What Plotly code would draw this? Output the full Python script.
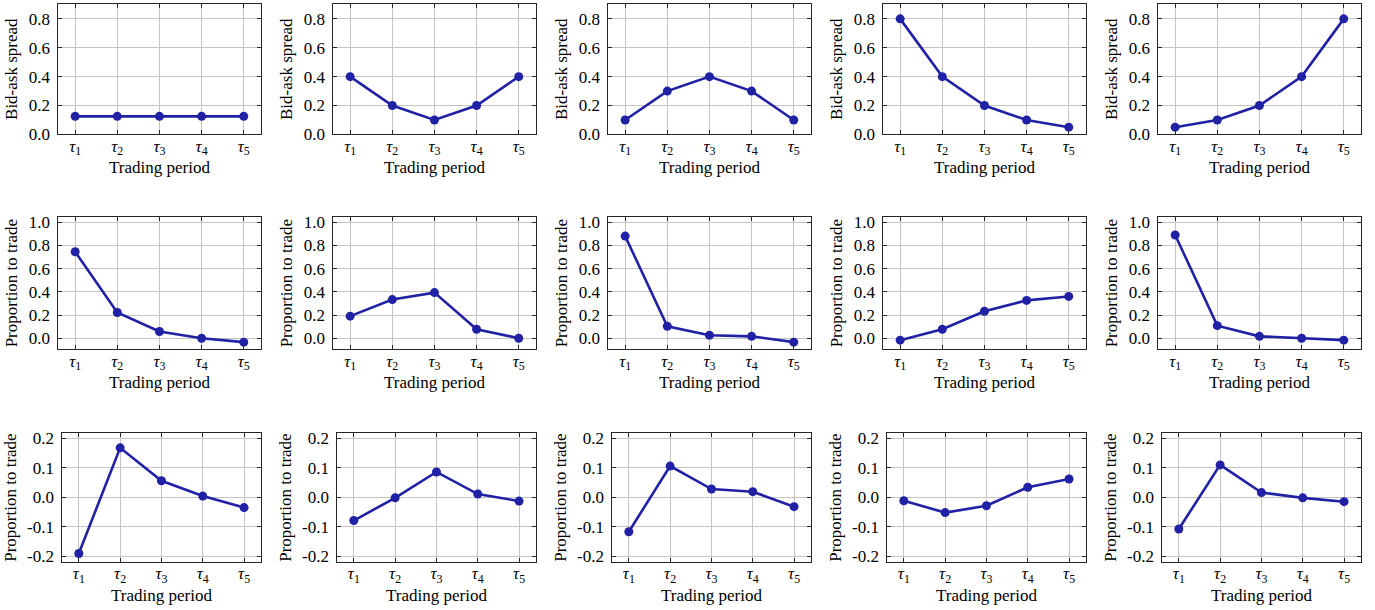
import plotly.graph_objects as go

periods = [1, 2, 3, 4, 5]
period_labels = ["<i>τ</i><sub>1</sub>", "<i>τ</i><sub>2</sub>", "<i>τ</i><sub>3</sub>",
                 "<i>τ</i><sub>4</sub>", "<i>τ</i><sub>5</sub>"]

spread_1 = [0.125, 0.125, 0.125, 0.125, 0.125]
spread_2 = [0.4, 0.2, 0.1, 0.2, 0.4]
spread_3 = [0.1, 0.3, 0.4, 0.3, 0.1]
spread_4 = [0.8, 0.4, 0.2, 0.1, 0.05]
spread_5 = [0.05, 0.1, 0.2, 0.4, 0.8]

prop_1 = [0.745, 0.222, 0.058, 0.0, -0.034]
prop_2 = [0.19, 0.333, 0.393, 0.077, 0.0]
prop_3 = [0.88, 0.103, 0.025, 0.016, -0.034]
prop_4 = [-0.017, 0.077, 0.232, 0.326, 0.36]
prop_5 = [0.89, 0.108, 0.016, 0.0, -0.017]

diff_1 = [-0.191, 0.168, 0.056, 0.004, -0.035]
diff_2 = [-0.079, -0.002, 0.086, 0.011, -0.013]
diff_3 = [-0.117, 0.106, 0.028, 0.019, -0.032]
diff_4 = [-0.012, -0.052, -0.029, 0.034, 0.062]
diff_5 = [-0.108, 0.11, 0.016, -0.002, -0.015]

row1_ticks = [0.0, 0.2, 0.4, 0.6, 0.8]
row1_text = ["0.0", "0.2", "0.4", "0.6", "0.8"]
row2_ticks = [0.0, 0.2, 0.4, 0.6, 0.8, 1.0]
row2_text = ["0.0", "0.2", "0.4", "0.6", "0.8", "1.0"]
row3_ticks = [-0.2, -0.1, 0.0, 0.1, 0.2]
row3_text = ["-0.2", "-0.1", "0.0", "0.1", "0.2"]

rows = [
    dict(data=[spread_1, spread_2, spread_3, spread_4, spread_5], title="Bid-ask spread",
         ticks=row1_ticks, text=row1_text, yrange=[0.0, 0.903], top=0.0, bottom=131.5, left=58.3),
    dict(data=[prop_1, prop_2, prop_3, prop_4, prop_5], title="Proportion to trade",
         ticks=row2_ticks, text=row2_text, yrange=[-0.094, 1.043], top=215.0, bottom=348.0, left=58.3),
    dict(data=[diff_1, diff_2, diff_3, diff_4, diff_5], title="Proportion to trade",
         ticks=row3_ticks, text=row3_text, yrange=[-0.22, 0.218], top=432.7, bottom=562.7, left=62.3),
]

W, H = 1375, 610
HY = 601.0  # vertical reference span used to place the panel rows
LINE = "#2121a6"
GRID = "#c4c4c4"
FRAME = "#262626"
FONT = "'Liberation Serif', 'DejaVu Serif', serif"

fig = go.Figure()
layout = dict(width=W, height=H, margin=dict(l=0, r=0, t=0, b=0),
              paper_bgcolor="white", plot_bgcolor="white", showlegend=False,
              font=dict(family=FONT, size=17, color="black"))

idx = 0
for r, row in enumerate(rows):
    for c in range(5):
        idx += 1
        xa = "xaxis" if idx == 1 else f"xaxis{idx}"
        ya = "yaxis" if idx == 1 else f"yaxis{idx}"
        xref = "x" if idx == 1 else f"x{idx}"
        yref = "y" if idx == 1 else f"y{idx}"
        x0 = row["left"] + 275 * c
        x1 = 260.6 + 275 * c
        fig.add_trace(go.Scatter(
            x=periods, y=row["data"][c], mode="lines+markers",
            line=dict(color=LINE, width=2.6),
            marker=dict(color=LINE, size=9),
            xaxis=xref, yaxis=yref, cliponaxis=False))
        layout[xa] = dict(
            domain=[x0 / W, x1 / W], anchor=yref, range=[0.6, 5.4],
            tickvals=periods, ticktext=period_labels,
            showgrid=True, gridcolor=GRID, gridwidth=1,
            showline=True, linecolor=FRAME, linewidth=1, mirror="ticks",
            ticks="inside", ticklen=4, tickcolor=FRAME, zeroline=False,
            tickfont=dict(family=FONT, size=17), ticklabelstandoff=-4,
            title=dict(text="Trading period", standoff=0, font=dict(family=FONT, size=17)),
        )
        layout[ya] = dict(
            domain=[1 - row["bottom"] / HY, 1 - row["top"] / HY], anchor=xref,
            range=row["yrange"], tickvals=row["ticks"], ticktext=row["text"],
            showgrid=True, gridcolor=GRID, gridwidth=1,
            showline=True, linecolor=FRAME, linewidth=1, mirror="ticks",
            ticks="inside", ticklen=4, tickcolor=FRAME, zeroline=False,
            tickfont=dict(family=FONT, size=17), ticklabelstandoff=4,
            title=dict(text=row["title"], standoff=6, font=dict(family=FONT, size=17)),
        )

fig.update_layout(**layout)
fig.write_html(
    "out.html",
    config={"displayModeBar": False},
    post_script=("document.documentElement.style.margin='0';"
                 "document.documentElement.style.overflow='hidden';"
                 "document.body.style.margin='0';"
                 "document.body.style.overflow='hidden';"),
)
